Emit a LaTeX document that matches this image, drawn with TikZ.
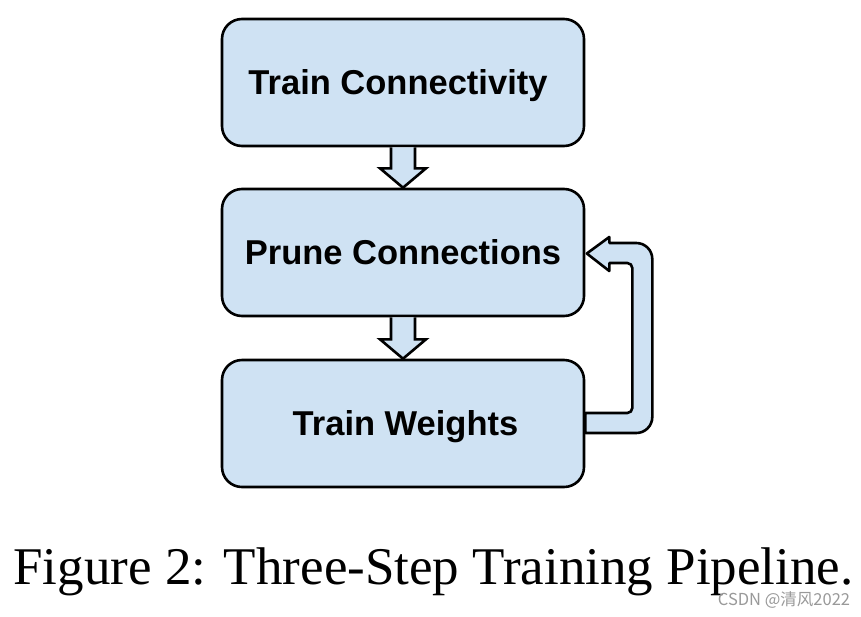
\documentclass[tikz,border=0pt]{standalone}
\usepackage{fontspec}
\setmainfont{Liberation Serif}
\newfontfamily\boxfont{Liberation Sans}
\newfontfamily\cjkfont{Noto Sans CJK SC}
\usetikzlibrary{calc}
\definecolor{boxfill}{HTML}{CFE2F3}
\begin{document}
\begin{tikzpicture}[x=1pt,y=-1pt,
  stepbox/.style={draw=black, fill=boxfill, line width=2.6pt, rounded corners=20pt,
    minimum width=362pt, minimum height=127pt, inner sep=0pt,
    font=\boxfont\fontsize{34.5}{40}\selectfont\bfseries, text height=24.7pt, text depth=0pt},
  blockarrow/.style={draw=black, fill=boxfill, line width=2.6pt, line join=miter}]
\useasboundingbox (0,0) rectangle (861,616);
\fill[white] (0,0) rectangle (861,616);

\node[stepbox] (tc) at (403,82.5) {Train Connectivity\hspace*{10pt}};
\node[stepbox] (pc) at (403,252.5) {Prune Connections};
\node[stepbox] (tw) at (403,423.5) {\hspace*{5pt}Train Weights};

% block arrows between boxes
\draw[blockarrow] ($(tc.south)+(-12,0)$) -- ($(tc.south)+(-12,21)$) -- ($(tc.south)+(-23,21)$)
  -- (pc.north) -- ($(tc.south)+(23,21)$) -- ($(tc.south)+(12,21)$) -- ($(tc.south)+(12,0)$);
\draw[blockarrow] ($(pc.south)+(-12,0)$) -- ($(pc.south)+(-12,22)$) -- ($(pc.south)+(-23,22)$)
  -- (tw.north) -- ($(pc.south)+(23,22)$) -- ($(pc.south)+(12,22)$) -- ($(pc.south)+(12,0)$);

% feedback arrow
\draw[blockarrow, line join=round]
  ($(tw.east)+(0,-10.5)$) -- ($(tw.east)+(0,9.5)$)
  [rounded corners=16pt] -- ($(tw.east)+(67,9.5)$) -- ($(tw.east)+(67,-180.5)$)
  [rounded corners=0pt] -- ($(tw.east)+(24,-180.5)$) -- ($(tw.east)+(24,-186.5)$)
  -- ($(pc.east)+(1.5,1)$)
  -- ($(tw.east)+(24,-152.5)$) -- ($(tw.east)+(24,-160.5)$)
  [rounded corners=5pt] -- ($(tw.east)+(47,-160.5)$) -- ($(tw.east)+(47,-10.5)$)
  [rounded corners=0pt] -- cycle;

\node[anchor=base, font=\fontsize{53}{60}\selectfont, inner sep=0pt] (cap) at (433.5,584)
  {Figure 2: Three-Step Training Pipeline.};
\node[anchor=center, font=\cjkfont\fontsize{16.5}{18}\selectfont, text=black!40, inner sep=0pt] (wm) at (784,600)
  {CSDN @清风2022};
\end{tikzpicture}
\end{document}
